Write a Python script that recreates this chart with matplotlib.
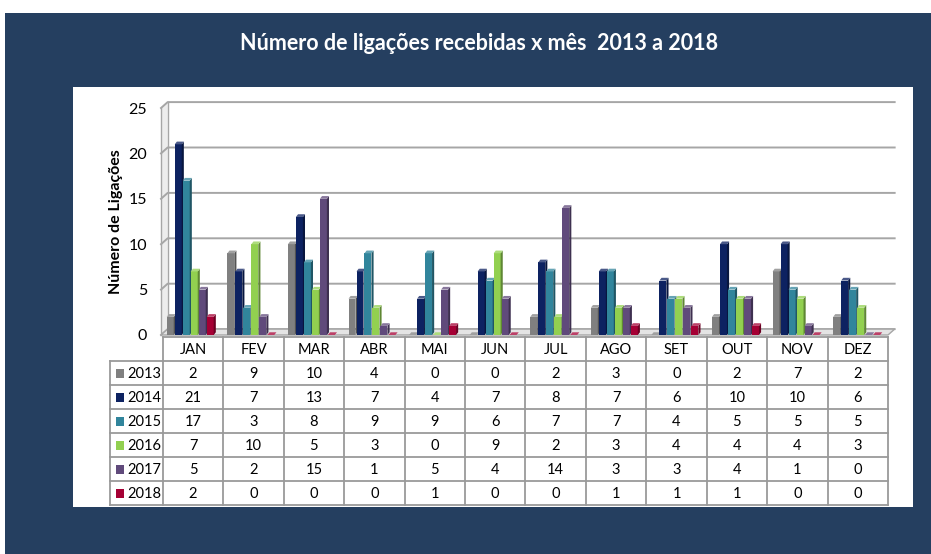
import numpy as np
import matplotlib
matplotlib.use('Agg')
import matplotlib.pyplot as plt
from matplotlib.patches import Rectangle, Polygon
from matplotlib import colors as mcolors

# Data
months = ['JAN', 'FEV', 'MAR', 'ABR', 'MAI', 'JUN', 'JUL', 'AGO', 'SET', 'OUT', 'NOV', 'DEZ']
years = ['2013', '2014', '2015', '2016', '2017', '2018']
calls_2013 = [2, 9, 10, 4, 0, 0, 2, 3, 0, 2, 7, 2]
calls_2014 = [21, 7, 13, 7, 4, 7, 8, 7, 6, 10, 10, 6]
calls_2015 = [17, 3, 8, 9, 9, 6, 7, 7, 4, 5, 5, 5]
calls_2016 = [7, 10, 5, 3, 0, 9, 2, 3, 4, 4, 4, 3]
calls_2017 = [5, 2, 15, 1, 5, 4, 14, 3, 3, 4, 1, 0]
calls_2018 = [2, 0, 0, 0, 1, 0, 0, 1, 1, 1, 0, 0]
series = [calls_2013, calls_2014, calls_2015, calls_2016, calls_2017, calls_2018]
bar_colors = ['#808080', '#0D2261', '#31859C', '#92D050', '#604A7B', '#A50034']

W, H = 931, 554
BG = '#253F60'
GRID = '#A6A6A6'
plt.rcParams['font.family'] = ['Lato', 'DejaVu Sans']


def px_axes(fig, left, top, right, bottom):
    return fig.add_axes([left / W, 1 - bottom / H, (right - left) / W, (bottom - top) / H])


def shade(col, f):
    r, g, b = mcolors.to_rgb(col)
    if f < 1:
        return (r * f, g * f, b * f)
    return (r + (1 - r) * (f - 1), g + (1 - g) * (f - 1), b + (1 - b) * (f - 1))


fig = plt.figure(figsize=(W / 100, H / 100), dpi=100)
fig.patch.set_facecolor('white')
fig.patches.append(Rectangle((5 / W, 0), 1, 1 - 13 / H, transform=fig.transFigure,
                             facecolor=BG, edgecolor='none', zorder=-3))
fig.patches.append(Rectangle((73 / W, 1 - 507 / H), 840 / W, 420 / H, transform=fig.transFigure,
                             facecolor='white', edgecolor='none', zorder=-2))
fig.text(479 / W, 1 - 43 / H, 'Número de ligações recebidas x mês  2013 a 2018',
         color='white', fontsize=15.5, fontweight='bold', ha='center', va='center')

# ---- bar chart with a light 3D look ----
ax = px_axes(fig, 161, 108, 888, 335)
ax.set_xlim(0, 12)
ax.set_ylim(0, 25)
ax.patch.set_alpha(0)
for s in ax.spines.values():
    s.set_visible(False)
ax.set_xticks([])
ax.set_yticks(range(0, 26, 5))
ax.tick_params(axis='y', length=0, pad=10, labelsize=11.5)
ax.set_ylabel('Número de Ligações', fontsize=11.5, fontweight='bold', labelpad=4)

wdx, wdy = 0.11, 0.65   # depth of walls
for v in range(0, 26, 5):
    ax.plot([0, wdx, 12 + wdx], [v, v + wdy, v + wdy], color=GRID, lw=1.4, clip_on=False, zorder=1)
ax.plot([wdx, wdx], [wdy, 25 + wdy], color=GRID, lw=1.0, clip_on=False, zorder=1)
ax.plot([0, 0], [0, 25], color=GRID, lw=1.0, clip_on=False, zorder=1)
ax.add_patch(Polygon([(0, 0), (wdx, wdy), (wdx, 25 + wdy), (0, 25)], closed=True,
                     facecolor='#EDEDED', edgecolor='none', clip_on=False, zorder=0))
ax.add_patch(Polygon([(0, 0), (12, 0), (12 + wdx, wdy), (wdx, wdy)], closed=True,
                     facecolor='#E4E4E4', edgecolor=GRID, lw=1.0, clip_on=False, zorder=1))

step, bw = 0.132, 0.115
bdx, bdy = 0.035, 0.3
x0 = np.arange(12) + 0.5
for i, (vals, col) in enumerate(zip(series, bar_colors)):
    xs = x0 + (i - 2.5) * step - bdx / 2
    ax.bar(xs, vals, width=bw, color=col, zorder=3 + i, edgecolor='none')
    for xi, v in zip(xs, vals):
        r = xi + bw / 2
        l = xi - bw / 2
        ax.add_patch(Polygon([(r, 0), (r + bdx, bdy), (r + bdx, v + bdy), (r, v)], closed=True,
                             facecolor=shade(col, 0.65), edgecolor='none', zorder=3 + i, clip_on=False))
        ax.add_patch(Polygon([(l, v), (l + bdx, v + bdy), (r + bdx, v + bdy), (r, v)], closed=True,
                             facecolor=shade(col, 1.25), edgecolor='none', zorder=3 + i, clip_on=False))

# ---- data table ----
leg_w = 53 / ((888 - 161) / 12)
tab = px_axes(fig, 110, 337, 888, 505)
tab.set_xlim(-leg_w, 12)
tab.set_ylim(7, 0)
tab.axis('off')
LC = '#9A9A9A'
tab.plot([0, 12], [0, 0], color=LC, lw=1.3, clip_on=False)
for r in range(1, 8):
    tab.plot([-leg_w, 12], [r, r], color=LC, lw=1.3, clip_on=False)
tab.plot([-leg_w, -leg_w], [1, 7], color=LC, lw=1.3, clip_on=False)
for c in range(13):
    tab.plot([c, c], [0, 7], color=LC, lw=1.3, clip_on=False)
for c, m in enumerate(months):
    tab.text(c + 0.5, 0.55, m, ha='center', va='center', fontsize=10.5)
for r, (yr, vals, col) in enumerate(zip(years, series, bar_colors)):
    y = r + 1.55
    tab.add_patch(Rectangle((-leg_w + 0.1, y - 0.22), 0.13, 0.38, facecolor=col,
                            edgecolor='none', clip_on=False))
    tab.text(-leg_w + 0.29, y, yr, ha='left', va='center', fontsize=10.5)
    for c, v in enumerate(vals):
        tab.text(c + 0.5, y, str(v), ha='center', va='center', fontsize=10.5)

fig.savefig('out.png', dpi=100, facecolor=fig.get_facecolor())
